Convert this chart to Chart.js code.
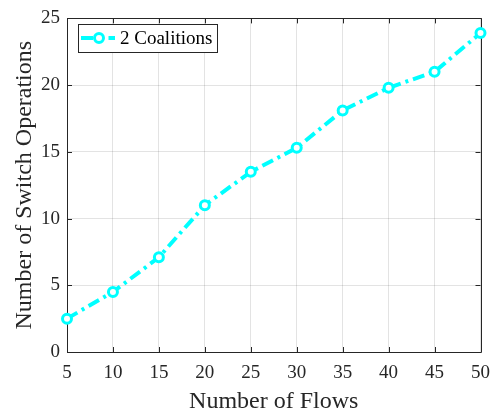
<!DOCTYPE html>
<html><head><meta charset="utf-8">
<script src="https://cdn.jsdelivr.net/npm/chart.js@4/dist/chart.umd.min.js"></script>
<style>html,body{margin:0;padding:0;background:#fff;}#wrap{width:500px;height:416px;}</style>
</head><body><div id="wrap"><canvas id="c" width="500" height="416"></canvas></div>
<script>
const flows = [5, 10, 15, 20, 25, 30, 35, 40, 45, 50];
const switchOps = [2.5, 4.5, 7.1, 11.0, 13.5, 15.3, 18.1, 19.8, 21.0, 23.9];
const seriesLabel = '2 Coalitions';
const xTicks = [5, 10, 15, 20, 25, 30, 35, 40, 45, 50];
const yTicks = [0, 5, 10, 15, 20, 25];
const xTitle = 'Number of Flows';
const yTitle = 'Number of Switch Operations';

const FONT = '"Liberation Serif", "Times New Roman", serif';
const INK = '#262626';
const CYAN = '#00FFFF';
const DASH = [12, 5, 3, 5];

const framePlugin = {
  id: 'frame',
  beforeDatasetsDraw(chart) {
    const {ctx, chartArea: a, scales: {x, y}} = chart;
    ctx.save();
    ctx.strokeStyle = INK;
    ctx.lineWidth = 1;
    ctx.beginPath();
    ctx.rect(Math.round(a.left) + 0.5, Math.round(a.top) + 0.5, Math.round(a.right - a.left), Math.round(a.bottom - a.top));
    ctx.stroke();
    const tl = 5;
    ctx.beginPath();
    xTicks.forEach(v => {
      const px = Math.round(x.getPixelForValue(v)) + 0.5;
      ctx.moveTo(px, a.bottom); ctx.lineTo(px, a.bottom - tl);
      ctx.moveTo(px, a.top); ctx.lineTo(px, a.top + tl);
    });
    yTicks.forEach(v => {
      const py = Math.round(y.getPixelForValue(v)) + 0.5;
      ctx.moveTo(a.left, py); ctx.lineTo(a.left + tl, py);
      ctx.moveTo(a.right, py); ctx.lineTo(a.right - tl, py);
    });
    ctx.stroke();
    ctx.restore();
  },
  afterDraw(chart) {
    const {ctx} = chart;
    const ds = chart.data.datasets[0];
    const bx = 78, by = 24, bw = 139, bh = 28;
    ctx.save();
    ctx.fillStyle = '#fff';
    ctx.fillRect(bx, by, bw, bh);
    ctx.strokeStyle = INK;
    ctx.lineWidth = 1;
    ctx.strokeRect(bx + 0.5, by + 0.5, bw, bh);
    const cy = by + bh / 2;
    ctx.strokeStyle = CYAN;
    ctx.lineWidth = 4;
    ctx.beginPath();
    ctx.moveTo(81, cy); ctx.lineTo(93, cy);
    ctx.moveTo(108.5, cy); ctx.lineTo(115, cy);
    ctx.stroke();
    ctx.lineWidth = 3;
    ctx.fillStyle = '#fff';
    ctx.beginPath();
    ctx.arc(99, cy, 4.5, 0, Math.PI * 2);
    ctx.fill(); ctx.stroke();
    ctx.fillStyle = '#000';
    ctx.font = '19px ' + FONT;
    ctx.textBaseline = 'middle';
    ctx.textAlign = 'left';
    ctx.fillText(ds.label, 120, cy + 1);
    ctx.restore();
  }
};

new Chart(document.getElementById('c'), {
  type: 'line',
  data: {
    datasets: [{
      label: seriesLabel,
      data: flows.map((f, i) => ({x: f, y: switchOps[i]})),
      borderColor: CYAN,
      borderWidth: 4,
      borderDash: DASH,
      pointRadius: 4.5,
      pointBorderWidth: 3,
      pointBackgroundColor: '#fff',
      pointBorderColor: CYAN,
      tension: 0,
      clip: false
    }]
  },
  options: {
    responsive: false,
    animation: false,
    devicePixelRatio: 1,
    layout: {padding: {top: 13, right: 17, left: 0, bottom: 0}},
    plugins: {legend: {display: false}, tooltip: {enabled: false}},
    scales: {
      x: {
        type: 'linear', min: 5, max: 50,
        afterBuildTicks: s => { s.ticks = xTicks.map(v => ({value: v})); },
        afterFit: s => { s.height = 64; },
        grid: {color: 'rgba(38,38,38,0.13)', drawTicks: false, lineWidth: 1},
        border: {display: false},
        ticks: {font: {family: FONT, size: 19}, color: INK, padding: 10, maxRotation: 0, autoSkip: false},
        title: {display: true, text: xTitle, font: {family: FONT, size: 24, lineHeight: 1.2}, color: INK, padding: {top: 0, bottom: 0}}
      },
      y: {
        type: 'linear', min: 0, max: 25,
        afterBuildTicks: s => { s.ticks = yTicks.map(v => ({value: v})); },
        afterFit: s => { s.width = 67; },
        grid: {color: 'rgba(38,38,38,0.13)', drawTicks: false, lineWidth: 1},
        border: {display: false},
        ticks: {font: {family: FONT, size: 19}, color: INK, padding: 7, autoSkip: false},
        title: {display: true, text: yTitle, font: {family: FONT, size: 24, lineHeight: 1.2}, color: INK, padding: {top: 10, bottom: 0}}
      }
    }
  },
  plugins: [framePlugin]
});
</script>
</body></html>
